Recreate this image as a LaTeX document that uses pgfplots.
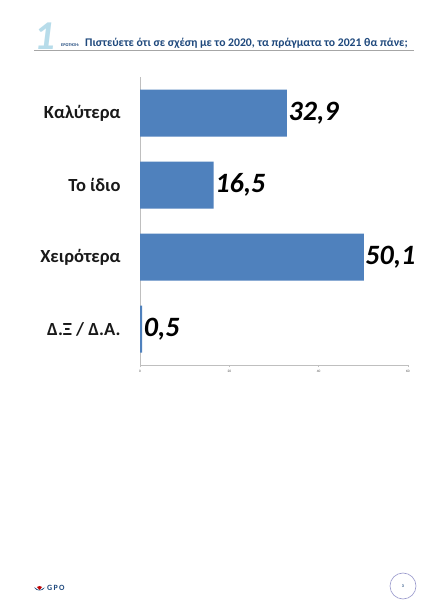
\documentclass[border=0pt]{standalone}
\usepackage{pgfplots}
\pgfplotsset{compat=1.18}
\usepackage{fontspec}
\setmainfont{Carlito}
\definecolor{barblue}{HTML}{4F81BD}
\definecolor{titleblue}{HTML}{1F497D}
\definecolor{lightnum}{HTML}{B7DCEA}
\definecolor{axgray}{HTML}{BFBFBF}
\begin{document}
\begin{tikzpicture}[x=1pt,y=1pt]
\fill[white] (0,0) rectangle (427,600);
% header
\node[anchor=base west, inner sep=0, text=lightnum, font=\fontsize{41}{41}\selectfont\bfseries\itshape] at (34,550) {1};
\draw[gray!70, line width=0.8pt] (34,550) -- (414,550);
\node[anchor=base west, inner sep=0, text=titleblue, font=\fontsize{4.3}{5}\selectfont\bfseries] at (61,553.5) {ΕΡΩΤΗΣΗ:};
\node[anchor=base west, inner sep=0, text=titleblue, font=\fontsize{11.7}{13}\selectfont\bfseries] at (85,553.5) {Πιστεύετε ότι σε σχέση με το 2020, τα πράγματα το 2021 θα πάνε;};
% footer
\fill[red!75!black] (37,13) -- (39.5,10) -- (42,13) -- (39.5,14) -- cycle;
\fill[titleblue] (34,12.5) .. controls (36,8.5) and (43,8.5) .. (45,12.5) -- (43.5,12) .. controls (41,9.5) and (38,9.5) .. (35.5,12) -- cycle;
\node[anchor=west, inner sep=0, text=titleblue, font=\fontsize{8}{8}\selectfont\bfseries] at (47,12) {G\,P\,O};
\draw[axgray!80!blue, line width=0.6pt] (403,14) circle (13);
\node[font=\fontsize{4}{4}\selectfont\bfseries, text=titleblue] at (403,14) {3};
\begin{axis}[
  at={(140pt,235pt)}, anchor=south west,
  scale only axis, width=268pt, height=288pt,
  xmin=0, xmax=60, ymin=-0.5, ymax=3.5, y dir=reverse,
  xbar, bar width=47pt,
  axis x line=bottom, axis y line=left,
  axis line style={-, axgray, line width=0.6pt},
  xtick={0,20,40,60},
  ytick={0,1,2,3},
  yticklabels={Καλύτερα, Το ίδιο, Χειρότερα, Δ.Ξ / Δ.Α.},
  minor ytick={-0.5,0.5,1.5,2.5,3.5},
  tick align=outside,
  major tick length=2pt, minor tick length=5pt,
  ytick style={draw=none},
  minor tick style={axgray, line width=0.6pt},
  xtick style={axgray, line width=0.5pt},
  yticklabel style={font=\fontsize{18.5}{18.5}\selectfont\bfseries, text=black!90, xshift=-14pt},
  xticklabel style={font=\fontsize{3.5}{4}\selectfont, text=black!70},
  /pgf/number format/assume math mode=true,
  point meta=explicit symbolic,
  nodes near coords,
  nodes near coords style={anchor=west, inner sep=1.5pt, font=\fontsize{28}{28}\selectfont\bfseries\itshape, text=black},
  clip=false,
]
\addplot[fill=barblue, draw=none] coordinates {(32.9,0) [32,9] (16.5,1) [16,5] (50.1,2) [50,1] (0.5,3) [0,5]};
\end{axis}
\end{tikzpicture}
\end{document}
